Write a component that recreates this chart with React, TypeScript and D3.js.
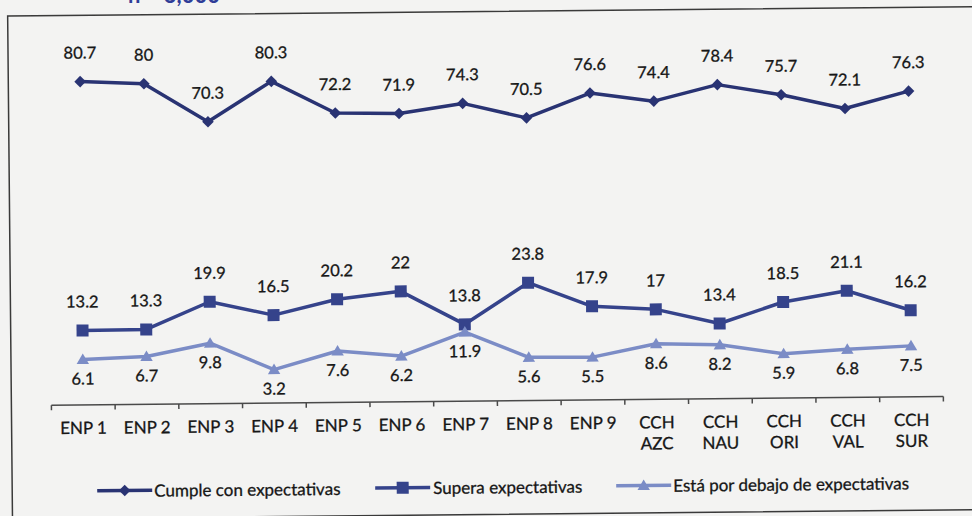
import React from "react";
import * as d3 from "d3";

const categories = [
  "ENP 1", "ENP 2", "ENP 3", "ENP 4", "ENP 5", "ENP 6", "ENP 7", "ENP 8", "ENP 9",
  "CCH AZC", "CCH NAU", "CCH ORI", "CCH VAL", "CCH SUR",
];
const cumple = [80.7, 80, 70.3, 80.3, 72.2, 71.9, 74.3, 70.5, 76.6, 74.4, 78.4, 75.7, 72.1, 76.3];
const supera = [13.2, 13.3, 19.9, 16.5, 20.2, 22, 13.8, 23.8, 17.9, 17, 13.4, 18.5, 21.1, 16.2];
const debajo = [6.1, 6.7, 9.8, 3.2, 7.6, 6.2, 11.9, 5.6, 5.5, 8.6, 8.2, 5.9, 6.8, 7.5];
const seriesNames = ["Cumple con expectativas", "Supera expectativas", "Está por debajo de expectativas"];
const headerText = "n = 3,000";

const W = 972;
const H = 516;
const FONT = "Lato, 'Open Sans', sans-serif";
const TEXT = "#161616";
const COLORS = ["#293373", "#35438b", "#7b8cc6"];

function Marker({ kind, x, y, color }: { kind: string; x: number; y: number; color: string }) {
  if (kind === "diamond") {
    const s = 5.8;
    return <path d={`M${x},${y - s}L${x + s},${y}L${x},${y + s}L${x - s},${y}Z`} fill={color} />;
  }
  if (kind === "square") {
    const s = 6;
    return <rect x={x - s} y={y - s} width={2 * s} height={2 * s} fill={color} />;
  }
  const w = 6.2;
  return <path d={`M${x},${y - 6}L${x + w},${y + 4.5}L${x - w},${y + 4.5}Z`} fill={color} />;
}

export default function App() {
  const xBand = d3.scaleBand<string>().domain(categories).range([50, 942]).paddingInner(0).paddingOuter(0);
  const cx = (c: string) => (xBand(c) as number) + xBand.bandwidth() / 2;
  // axis with a break between the low series and the top series
  const y = d3.scaleLinear().domain([0, 25, 65, 90]).range([380.7, 278.2, 140.2, 40.7]);
  const axisY = 401;

  const series = [
    { name: seriesNames[0], values: cumple, color: COLORS[0], kind: "diamond", labelDy: -23 },
    { name: seriesNames[1], values: supera, color: COLORS[1], kind: "square", labelDy: -23 },
    { name: seriesNames[2], values: debajo, color: COLORS[2], kind: "triangle", labelDy: 25 },
  ];

  const line = d3
    .line<number>()
    .x((_, i) => cx(categories[i]))
    .y((v) => y(v));

  const tickXs = [...categories.map((c) => xBand(c) as number), 942];

  const legendItems = [
    { lx: 95, tx: 152 },
    { lx: 373, tx: 431 },
    { lx: 614, tx: 671 },
  ];
  const legendY = 487;
  const textStroke = { stroke: TEXT, strokeWidth: 0.3 };

  return (
    <svg
      width={W}
      height={H}
      style={{ position: "absolute", left: 0, top: 0, display: "block" }}
      fontFamily={FONT}
    >
      <rect x={0} y={0} width={W} height={H} fill="#f3f3f2" />
      <text x={128} y={2.5} fontSize={22} fontWeight={700} fill="#2f3d98">
        {headerText}
      </text>
      <g transform="rotate(-0.55 486 258)">
        <rect x={10} y={11.5} width={1000} height={503} fill="none" stroke="#3a3a3a" strokeWidth={1.5} />
        {/* x axis */}
        <line x1={50} x2={942} y1={axisY} y2={axisY} stroke="#4a4a4a" strokeWidth={1.5} />
        {tickXs.map((t, i) => (
          <line key={i} x1={t} x2={t} y1={axisY} y2={axisY + 5} stroke="#4a4a4a" strokeWidth={1.5} />
        ))}
        {categories.map((c) => {
          const lines = c.startsWith("CCH") ? c.split(" ") : [c];
          return (
            <text key={c} x={cx(c)} y={430} textAnchor="middle" fontSize={17} fill={TEXT} {...textStroke}>
              {lines.map((l, j) => (
                <tspan key={j} x={cx(c)} dy={j === 0 ? 0 : 21}>
                  {l}
                </tspan>
              ))}
            </text>
          );
        })}
        {/* series */}
        {series.map((s) => (
          <g key={s.name}>
            <path d={line(s.values) as string} fill="none" stroke={s.color} strokeWidth={3.5} strokeLinejoin="round" />
            {s.values.map((v, i) => (
              <Marker key={i} kind={s.kind} x={cx(categories[i])} y={y(v)} color={s.color} />
            ))}
            {s.values.map((v, i) => (
              <text
                key={"l" + i}
                x={cx(categories[i])}
                y={y(v) + s.labelDy}
                textAnchor="middle"
                fontSize={16.5}
                fill={TEXT}
                {...textStroke}
              >
                {String(v)}
              </text>
            ))}
          </g>
        ))}
        {/* legend */}
        {series.map((s, i) => {
          const it = legendItems[i];
          return (
            <g key={"leg" + i}>
              <line x1={it.lx} x2={it.lx + 55} y1={legendY} y2={legendY} stroke={s.color} strokeWidth={3.5} />
              <Marker kind={s.kind} x={it.lx + 27.5} y={legendY} color={s.color} />
              <text x={it.tx} y={legendY + 6.5} fontSize={17} fill={TEXT} {...textStroke}>
                {s.name}
              </text>
            </g>
          );
        })}
      </g>
    </svg>
  );
}
